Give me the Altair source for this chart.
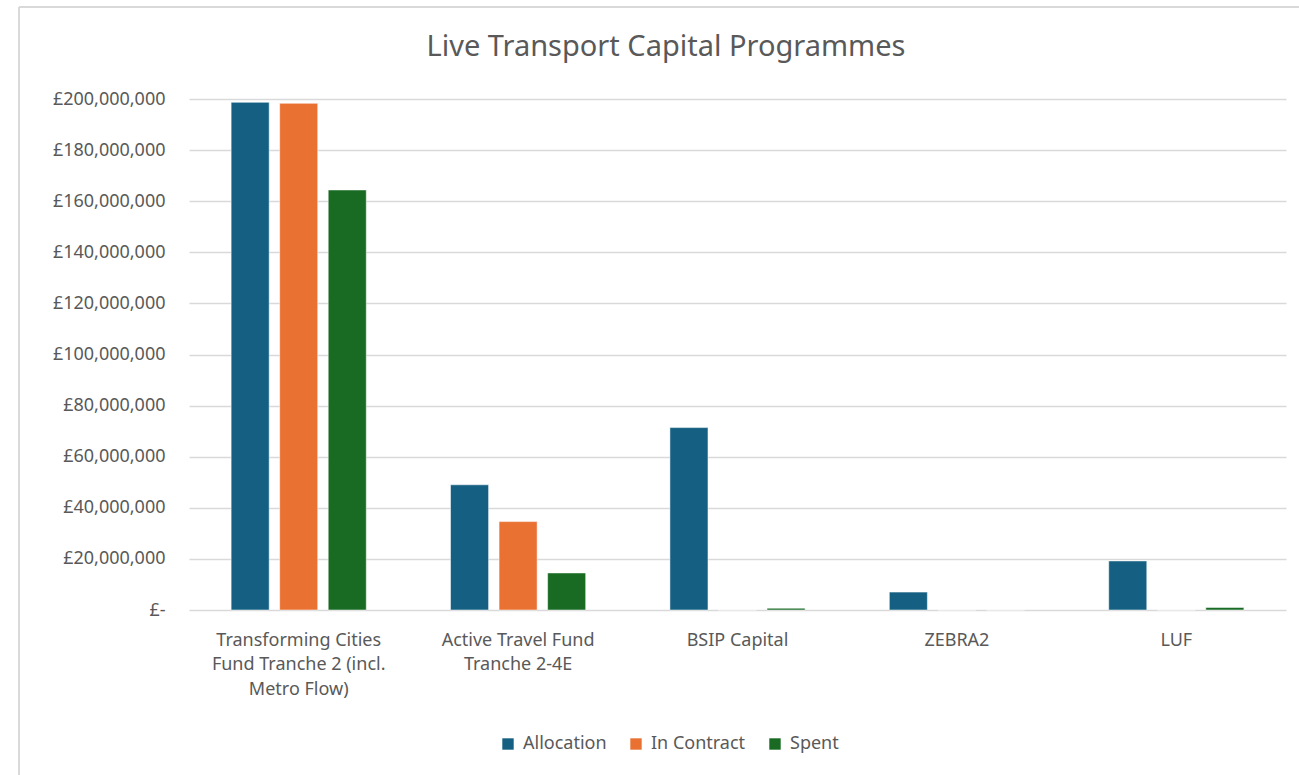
import altair as alt
import pandas as pd

categories = [
    "Transforming Cities|Fund Tranche 2 (incl.|Metro Flow)",
    "Active Travel Fund|Tranche 2-4E",
    "BSIP Capital",
    "ZEBRA2",
    "LUF",
]
series = ["Allocation", "In Contract", "Spent"]
allocation = [198_700_000, 49_000_000, 71_400_000, 7_000_000, 19_200_000]
in_contract = [198_300_000, 34_600_000, 0, 0, 0]
spent = [164_400_000, 14_500_000, 700_000, 0, 1_000_000]
colors = ["#156082", "#E97132", "#196B24"]
y_ticks = list(range(0, 200_000_001, 20_000_000))
chart_title = "Live Transport Capital Programmes"

rows = []
for i, c in enumerate(categories):
    for s, vals in zip(series, [allocation, in_contract, spent]):
        rows.append({"Programme": c, "Series": s, "Value": vals[i]})
df = pd.DataFrame(rows)

FONT = "Noto Sans"
GREY = "#595959"
LBL = 18

bars = alt.Chart(df).mark_bar(stroke="white", strokeOpacity=0.5, strokeWidth=1).encode(
    x=alt.X("Programme:N", sort=categories, title=None,
            scale=alt.Scale(paddingInner=0.384, paddingOuter=0.192),
            axis=alt.Axis(labelExpr="split(datum.label, '|')", labelAngle=0,
                          domain=False, ticks=False, grid=False, labelPadding=21,
                          labelBaseline="top", labelLineHeight=24.5,
                          labelFontSize=LBL, labelColor=GREY, labelFont=FONT,
                          labelLimit=300)),
    xOffset=alt.XOffset("Series:N", sort=series,
                        scale=alt.Scale(paddingInner=0.216, paddingOuter=0)),
    y=alt.Y("Value:Q", title=None,
            scale=alt.Scale(domain=[0, 200_000_000], nice=False),
            axis=alt.Axis(values=y_ticks, domain=False, ticks=False,
                          labelExpr="datum.value == 0 ? '£-\u2007\u2007' : '£' + format(datum.value, ',')",
                          labelPadding=24, labelFontSize=LBL, labelColor=GREY,
                          labelFont=FONT, gridColor="#d9d9d9", gridWidth=1.5)),
    color=alt.Color("Series:N", sort=series,
                    scale=alt.Scale(domain=series, range=colors),
                    legend=alt.Legend(title=None, orient="none", direction="horizontal",
                                      legendX=310, legendY=636,
                                      symbolType="square", symbolSize=130,
                                      symbolStrokeWidth=0,
                                      labelFontSize=LBL, labelColor=GREY, labelFont=FONT,
                                      labelOffset=6, columnPadding=20)),
)

title_df = pd.DataFrame({"t": [chart_title]})
title = alt.Chart(title_df).mark_text(fontSize=29, font=FONT, color=GREY,
                                      baseline="middle", align="center").encode(
    text="t:N", x=alt.value(477), y=alt.value(-52)
)

border_df = pd.DataFrame({"k": [0]})
top_border = alt.Chart(border_df).mark_rule(color="#d9d9d9", strokeWidth=2).encode(
    x=alt.value(-170), x2=alt.value(1200), y=alt.value(-92)
)
left_border = alt.Chart(border_df).mark_rule(color="#d9d9d9", strokeWidth=2).encode(
    x=alt.value(-170), y=alt.value(-92), y2=alt.value(700)
)

chart = alt.layer(bars, title, top_border, left_border).properties(
    width=1097,
    height=511,
    padding={"left": 189, "top": 99, "right": 13, "bottom": 165},
    autosize=alt.AutoSizeParams(type="none"),
).configure(background="white").configure_view(strokeWidth=0, stroke="transparent")

chart.save("out.html", embed_options={"renderer": "svg", "actions": False})
